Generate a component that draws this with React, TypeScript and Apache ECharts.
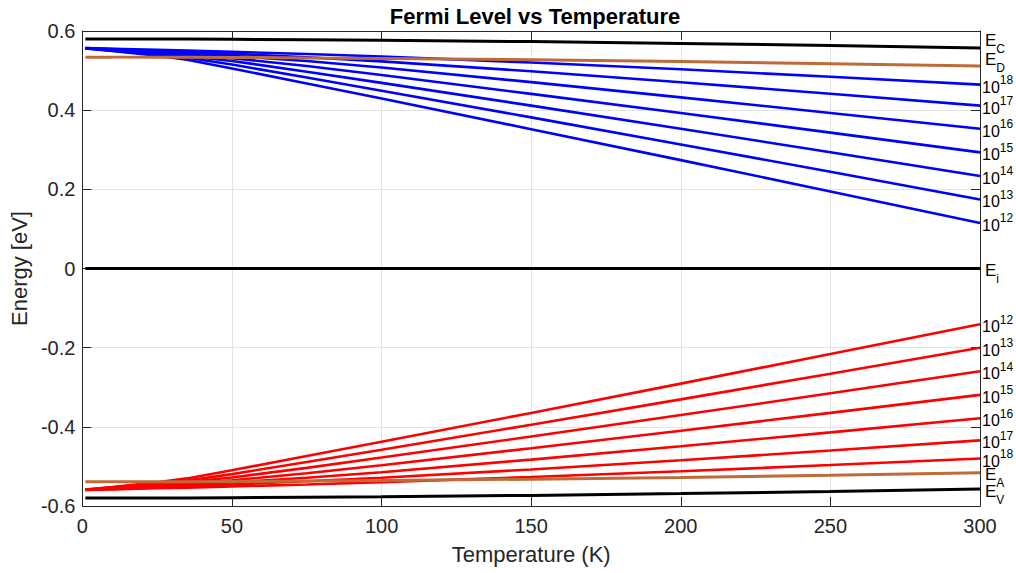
import React, { useEffect, useRef } from "react";
import * as echarts from "echarts";

const temps = [1, 10, 25, 35, 50, 75, 100, 150, 200, 250, 300];

// Band edges / impurity levels (eV)
const ecLevel = [0.58, 0.58, 0.5798, 0.5796, 0.5791, 0.5781, 0.5768, 0.5732, 0.5687, 0.5633, 0.5573];
const edLevel = [0.534, 0.534, 0.5338, 0.5336, 0.5331, 0.5321, 0.5308, 0.5272, 0.5227, 0.5173, 0.5113];
const eiLevel = [0, 0, 0, 0, 0, 0, 0, 0, 0, 0, 0];
const eaLevel = [-0.539, -0.539, -0.5388, -0.5386, -0.5381, -0.5371, -0.5358, -0.5322, -0.5277, -0.5223, -0.5163];
const evLevel = [-0.58, -0.58, -0.5798, -0.5796, -0.5791, -0.5781, -0.5768, -0.5732, -0.5687, -0.5633, -0.5573];

// n-type Fermi levels (eV)
const n1e12 = [0.5562, 0.5493, 0.5375, 0.5273, 0.5054, 0.4675, 0.4294, 0.352, 0.2738, 0.1947, 0.115];
const n1e13 = [0.5563, 0.5503, 0.5401, 0.5324, 0.5152, 0.4824, 0.4492, 0.3818, 0.3135, 0.2443, 0.1745];
const n1e14 = [0.5564, 0.5513, 0.5426, 0.5364, 0.5242, 0.4972, 0.469, 0.4115, 0.3531, 0.2938, 0.2339];
const n1e15 = [0.5565, 0.5523, 0.5451, 0.5401, 0.5314, 0.5116, 0.4887, 0.4412, 0.3927, 0.3433, 0.2933];
const n1e16 = [0.5566, 0.5533, 0.5476, 0.5436, 0.5372, 0.5241, 0.5076, 0.4708, 0.4324, 0.393, 0.353];
const n1e17 = [0.5567, 0.5543, 0.55, 0.5471, 0.5424, 0.5337, 0.5233, 0.4983, 0.4706, 0.4414, 0.4115];
const n1e18 = [0.5568, 0.5553, 0.5525, 0.5506, 0.5475, 0.5419, 0.5355, 0.5204, 0.5032, 0.4844, 0.4646];

// p-type Fermi levels (eV)
const p1e12 = [-0.5587, -0.552, -0.5403, -0.5303, -0.5096, -0.4739, -0.4379, -0.3649, -0.2909, -0.2161, -0.1406];
const p1e13 = [-0.5588, -0.553, -0.5429, -0.5354, -0.5194, -0.4888, -0.4577, -0.3946, -0.3306, -0.2657, -0.2001];
const p1e14 = [-0.5589, -0.5539, -0.5454, -0.5394, -0.5281, -0.5036, -0.4776, -0.4244, -0.3703, -0.3153, -0.2597];
const p1e15 = [-0.559, -0.5549, -0.5479, -0.543, -0.5349, -0.5174, -0.4971, -0.454, -0.4099, -0.3648, -0.3192];
const p1e16 = [-0.5591, -0.5559, -0.5504, -0.5466, -0.5404, -0.5287, -0.5147, -0.4828, -0.449, -0.4139, -0.3782];
const p1e17 = [-0.5592, -0.5569, -0.5529, -0.5501, -0.5456, -0.5376, -0.5285, -0.5076, -0.4845, -0.4598, -0.4342];
const p1e18 = [-0.5593, -0.5579, -0.5553, -0.5535, -0.5506, -0.5455, -0.5398, -0.5268, -0.5123, -0.4966, -0.4801];

const nSeries = [
  { exp: "12", values: n1e12 },
  { exp: "13", values: n1e13 },
  { exp: "14", values: n1e14 },
  { exp: "15", values: n1e15 },
  { exp: "16", values: n1e16 },
  { exp: "17", values: n1e17 },
  { exp: "18", values: n1e18 },
];
const pSeries = [
  { exp: "12", values: p1e12 },
  { exp: "13", values: p1e13 },
  { exp: "14", values: p1e14 },
  { exp: "15", values: p1e15 },
  { exp: "16", values: p1e16 },
  { exp: "17", values: p1e17 },
  { exp: "18", values: p1e18 },
];

const FONT = "'Liberation Sans', Arial, Helvetica, sans-serif";
const AX = "#262626";
const BLUE = "#0000ff";
const RED = "#ff0000";
const BROWN = "#bf6b38";
const BLACK = "#000000";

const rich = {
  e: { fontSize: 17, lineHeight: 17, verticalAlign: "top", color: "#000", fontFamily: FONT },
  s: { fontSize: 12, lineHeight: 12, verticalAlign: "top", padding: [11, 0, 0, 0], color: "#000", fontFamily: FONT },
  n: { fontSize: 16, verticalAlign: "top", padding: [5, 0, 0, 0], color: "#000", fontFamily: FONT },
  p: { fontSize: 12, lineHeight: 12, verticalAlign: "top", color: "#000", fontFamily: FONT },
};

function mk(name: string, values: number[], color: string, width: number, label: string, dy: number, dist: number) {
  return {
    name,
    type: "line",
    data: temps.map((t, i) => [t, values[i]]),
    showSymbol: false,
    symbol: "none",
    smooth: false,
    silent: true,
    lineStyle: { color, width },
    itemStyle: { color },
    emphasis: { disabled: true },
    endLabel: {
      show: true,
      formatter: () => label,
      rich,
      distance: dist,
      offset: [0, dy],
    },
  };
}

export default function App() {
  const ref = useRef<HTMLDivElement>(null);
  useEffect(() => {
    if (!ref.current) return;
    const chart = echarts.init(ref.current, null, { renderer: "svg" });
    const series: any[] = [];
    nSeries.forEach((s) => series.push(mk("n" + s.exp, s.values, BLUE, 2.6, `{n|10}{p|${s.exp}}`, 0, 2)));
    pSeries.forEach((s) => series.push(mk("p" + s.exp, s.values, RED, 2.6, `{n|10}{p|${s.exp}}`, 0, 2)));
    series.push(mk("Ed", edLevel, BROWN, 3, "{e|E}{s|D}", -7, 5));
    series.push(mk("Ea", eaLevel, BROWN, 3, "{e|E}{s|A}", 1.5, 5));
    series.push(mk("Ec", ecLevel, BLACK, 3, "{e|E}{s|C}", -7.5, 5));
    series.push(mk("Ei", eiLevel, BLACK, 3, "{e|E}{s|i}", 1.5, 5));
    series.push(mk("Ev", evLevel, BLACK, 3, "{e|E}{s|V}", 2, 5));

    const axisCommon = {
      axisLine: { show: true, onZero: false, lineStyle: { color: AX, width: 1 } },
      axisTick: { show: true, inside: true, length: 9, lineStyle: { color: AX, width: 1 } },
    };

    chart.setOption({
      animation: false,
      backgroundColor: "#ffffff",
      textStyle: { fontFamily: FONT },
      title: {
        text: "Fermi Level vs Temperature",
        left: 530,
        textAlign: "center",
        top: 0,
        textStyle: { fontSize: 22, fontWeight: "bold", color: "#000", fontFamily: FONT },
      },
      grid: { left: 80, right: 36, top: 31, bottom: 67, containLabel: false },
      xAxis: [
        {
          type: "value",
          min: 0,
          max: 300,
          interval: 50,
          position: "bottom",
          ...axisCommon,
          axisLabel: { fontSize: 20, color: AX, margin: 10, fontFamily: FONT },
          splitLine: { show: true, lineStyle: { color: "#e3e3e3", width: 1 } },
          name: "Temperature (K)",
          nameLocation: "middle",
          nameGap: 37,
          nameTextStyle: { fontSize: 22, color: AX, fontFamily: FONT },
        },
        {
          type: "value",
          min: 0,
          max: 300,
          interval: 50,
          position: "top",
          ...axisCommon,
          axisLabel: { show: false },
          splitLine: { show: false },
        },
      ],
      yAxis: [
        {
          type: "value",
          min: -0.6,
          max: 0.6,
          interval: 0.2,
          position: "left",
          ...axisCommon,
          axisLabel: {
            fontSize: 20,
            color: AX,
            margin: 7,
            fontFamily: FONT,
            formatter: (v: number) => (Math.abs(v) < 1e-9 ? "0" : v.toFixed(1)),
          },
          splitLine: { show: true, lineStyle: { color: "#e3e3e3", width: 1 } },
          name: "Energy [eV]",
          nameLocation: "middle",
          nameGap: 41,
          nameTextStyle: { fontSize: 22, color: AX, fontFamily: FONT },
        },
        {
          type: "value",
          min: -0.6,
          max: 0.6,
          interval: 0.2,
          position: "right",
          ...axisCommon,
          axisLabel: { show: false },
          splitLine: { show: false },
        },
      ],
      series,
    });
    return () => chart.dispose();
  }, []);
  return (
    <div
      ref={ref}
      style={{ position: "fixed", left: 0, top: 0, width: 1016, height: 573, background: "#fff" }}
    />
  );
}
